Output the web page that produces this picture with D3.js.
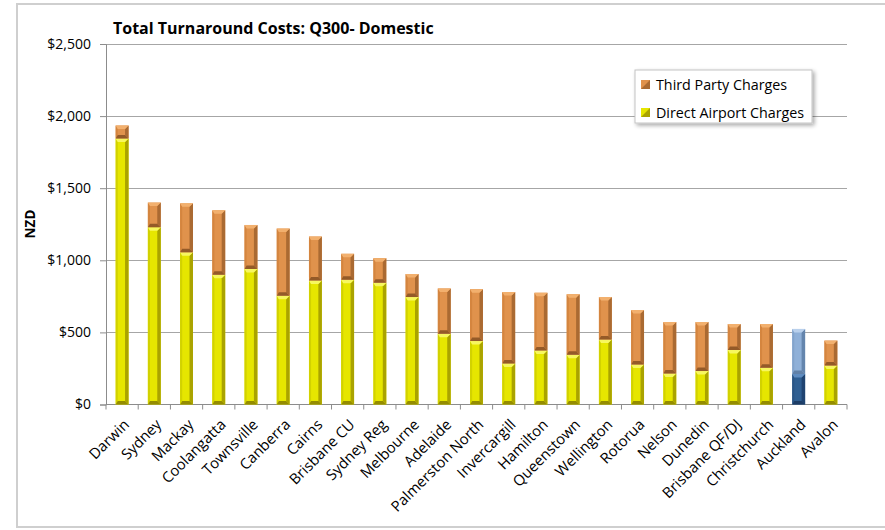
<!DOCTYPE html>
<html>
<head>
<meta charset="utf-8">
<script src="https://cdn.jsdelivr.net/npm/d3@7/dist/d3.min.js"></script>
<style>
  html, body { margin: 0; padding: 0; background: #fff; }
  svg { display: block; }
  text { font-family: "Open Sans", "Liberation Sans", sans-serif; fill: #000; }
</style>
</head>
<body>
<svg id="chart" width="885" height="530"></svg>
<script>
// Turnaround cost breakdown per airport (NZD)
const categories = ["Darwin", "Sydney", "Mackay", "Coolangatta", "Townsville", "Canberra", "Cairns",
  "Brisbane CU", "Sydney Reg", "Melbourne", "Adelaide", "Palmerston North", "Invercargill", "Hamilton",
  "Queenstown", "Wellington", "Rotorua", "Nelson", "Dunedin", "Brisbane QF/DJ", "Christchurch",
  "Auckland", "Avalon"];
const directAirportCharges = [1845, 1230, 1055, 900, 940, 755, 860, 865, 845, 745, 490, 440, 285, 375,
  345, 450, 277, 215, 232, 378, 255, 212, 270];
const thirdPartyCharges = [90, 170, 340, 447, 305, 465, 305, 180, 170, 160, 315, 360, 495, 400,
  420, 295, 378, 357, 340, 180, 303, 312, 173];
const yTicks = [0, 500, 1000, 1500, 2000, 2500];
const highlighted = "Auckland";
const seriesNames = ["Third Party Charges", "Direct Airport Charges"];

const svg = d3.select("#chart");

// Palettes for the bevelled bar faces
const palettes = {
  direct:   { face: "#e6e600", light: "#f7f760", left: "#d2d200", right: "#aaa300", dark: "#948c00" },
  third:    { face: "#e0924c", light: "#f2b06e", left: "#d4853f", right: "#aa6a32", dark: "#945a28" },
  hiDirect: { face: "#2f5f92", light: "#5f8cc0", left: "#2a5585", right: "#1f4370", dark: "#1d3d66" },
  hiThird:  { face: "#8fb0d8", light: "#b9d0ec", left: "#83a4cc", right: "#6485ad", dark: "#6181a8" }
};

// Legend drop shadow
const defs = svg.append("defs");
const sh = defs.append("filter").attr("id", "shadow").attr("x", "-10%").attr("y", "-10%")
  .attr("width", "130%").attr("height", "150%");
sh.append("feGaussianBlur").attr("in", "SourceAlpha").attr("stdDeviation", 2);
sh.append("feOffset").attr("dx", 2).attr("dy", 2).attr("result", "ob");
sh.append("feComponentTransfer").append("feFuncA").attr("type", "linear").attr("slope", 0.35);
const m = sh.append("feMerge");
m.append("feMergeNode");
m.append("feMergeNode").attr("in", "SourceGraphic");

// Outer frame
svg.append("rect")
  .attr("x", 17).attr("y", 4).attr("width", 900).attr("height", 523)
  .attr("fill", "#fff").attr("stroke", "#cfcfcf").attr("stroke-width", 2);

// Scales
const plotLeft = 106, plotRight = 847, plotTop = 44, plotBottom = 404.5;
const x = d3.scaleBand().domain(categories).range([plotLeft, plotRight])
  .paddingInner(0.6).paddingOuter(0.3);
const y = d3.scaleLinear().domain([0, 2500]).range([plotBottom, plotTop]);

// Gridlines
svg.append("g").selectAll("line").data(yTicks.filter(d => d > 0)).join("line")
  .attr("x1", plotLeft).attr("x2", plotRight)
  .attr("y1", d => Math.round(y(d)) + 0.5).attr("y2", d => Math.round(y(d)) + 0.5)
  .attr("stroke", "#a6a6a6").attr("stroke-width", 1.2);

// Y axis
const yAxis = svg.append("g").attr("transform", `translate(${plotLeft},0)`)
  .call(d3.axisLeft(y).tickValues(yTicks).tickSize(6).tickPadding(9)
    .tickFormat(d => "$" + d3.format(",")(d)));
yAxis.select(".domain").attr("stroke", "#8c8c8c");
yAxis.selectAll(".tick line").attr("stroke", "#8c8c8c");
yAxis.selectAll(".tick text").attr("font-size", 14).attr("fill", "#222")
  .style("font-family", "'Open Sans', sans-serif");

// X axis with ticks on category boundaries
const step = x.step();
const boundaries = d3.range(categories.length + 1).map(i => plotLeft + i * step);
svg.append("line").attr("x1", plotLeft).attr("x2", plotRight)
  .attr("y1", plotBottom).attr("y2", plotBottom).attr("stroke", "#8c8c8c");
svg.append("g").selectAll("line").data(boundaries).join("line")
  .attr("x1", d => d).attr("x2", d => d)
  .attr("y1", plotBottom).attr("y2", plotBottom + 5)
  .attr("stroke", "#8c8c8c");

// Category labels
svg.append("g").selectAll("text").data(categories).join("text")
  .attr("transform", d => `translate(${x(d) + x.bandwidth() / 2 + 8},${plotBottom + 21}) rotate(-45)`)
  .attr("text-anchor", "end")
  .attr("font-size", 14.8)
  .attr("fill", "#222")
  .text(d => d);

// Bevelled segment
function bevelSeg(g, x0, y0, w, h, p) {
  const b = Math.min(3.5, h / 2);
  const x1 = x0 + w, y1 = y0 + h;
  g.append("rect").attr("x", x0).attr("y", y0).attr("width", w).attr("height", h).attr("fill", p.face);
  g.append("polygon").attr("fill", p.left)
    .attr("points", [[x0, y0], [x0 + b * 0.6, y0 + b], [x0 + b * 0.6, y1 - b], [x0, y1]].join(" "));
  g.append("polygon").attr("fill", p.right)
    .attr("points", [[x1, y0], [x1 - b, y0 + b], [x1 - b, y1 - b], [x1, y1]].join(" "));
  g.append("polygon").attr("fill", p.light)
    .attr("points", [[x0, y0], [x1, y0], [x1 - b, y0 + b], [x0 + b * 0.6, y0 + b]].join(" "));
  g.append("polygon").attr("fill", p.dark)
    .attr("points", [[x0, y1], [x1, y1], [x1 - b, y1 - b], [x0 + b * 0.6, y1 - b]].join(" "));
}

// Stacked bars
const bars = svg.append("g");
categories.forEach((c, i) => {
  const hi = c === highlighted;
  const g = bars.append("g").attr("class", "bar");
  const bx = x(c), bw = x.bandwidth();
  const d0 = directAirportCharges[i], t0 = thirdPartyCharges[i];
  bevelSeg(g, bx, y(d0), bw, y(0) - y(d0), hi ? palettes.hiDirect : palettes.direct);
  bevelSeg(g, bx, y(d0 + t0), bw, y(d0) - y(d0 + t0), hi ? palettes.hiThird : palettes.third);
});

// Title
svg.append("text").attr("x", 113).attr("y", 34)
  .attr("font-size", 16).attr("font-weight", "bold")
  .text("Total Turnaround Costs: Q300- Domestic");

// Y axis title
svg.append("text").attr("transform", "translate(35,224) rotate(-90)")
  .attr("text-anchor", "middle").attr("font-size", 13.5).attr("font-weight", "bold")
  .text("NZD");

// Legend
const lg = svg.append("g").attr("transform", "translate(635,70)");
lg.append("rect").attr("width", 177).attr("height", 53)
  .attr("fill", "#fff").attr("stroke", "#c4c4c4").attr("filter", "url(#shadow)");
const legendPal = [palettes.third, palettes.direct];
seriesNames.forEach((name, i) => {
  const row = lg.append("g").attr("transform", `translate(6,${10 + i * 28})`);
  row.append("rect").attr("width", 9).attr("height", 9).attr("fill", legendPal[i].face);
  row.append("polygon").attr("points", "9,0 9,9 0,9").attr("fill", legendPal[i].right);
  row.append("text").attr("x", 15).attr("y", 9.5).attr("font-size", 14.3).attr("fill", "#222").text(name);
});
</script>
</body>
</html>
